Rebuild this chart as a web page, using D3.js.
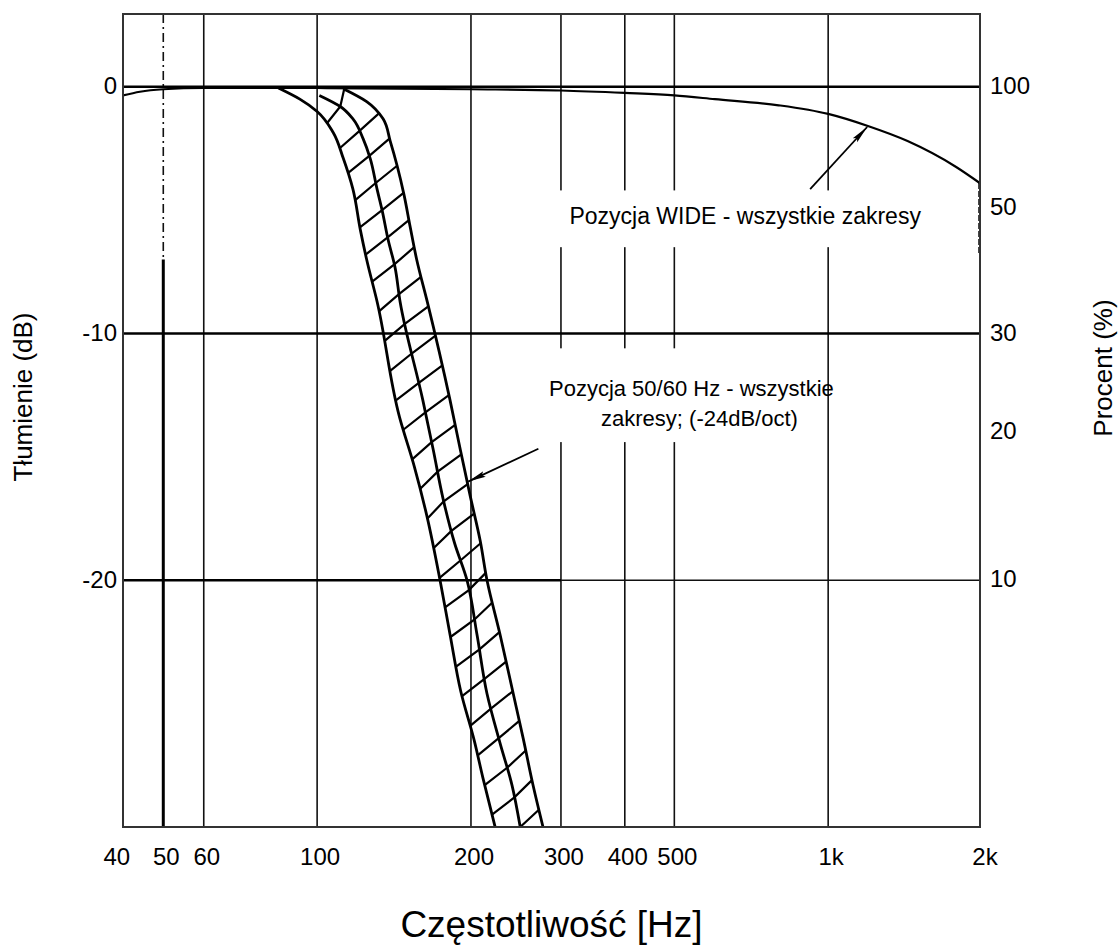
<!DOCTYPE html>
<html>
<head>
<meta charset="utf-8">
<script src="https://cdn.jsdelivr.net/npm/d3@7"></script>
<style>
  body { margin: 0; background: #fff; }
  text { font-family: "Liberation Sans", Arial, sans-serif; fill: #000; }
</style>
</head>
<body>
<svg id="chart"></svg>
<script>
const width = 1119;
const height = 950;
const margin = {top: 14, right: 139, bottom: 123, left: 123};

// axis ticks
const freqTicks = [40, 50, 60, 100, 200, 300, 400, 500, 1000, 2000];
const freqLabels = ["40", "50", "60", "100", "200", "300", "400", "500", "1k", "2k"];
const gridFreqs = [50, 60, 100, 200, 300, 400, 500, 1000];
const dbTicks = [0, -10, -20];
const pctLabels = ["100", "50", "30", "20", "10"];
const pctDb = [0, -4.9, -10, -14, -20];

// "WIDE" response
const wideFreq = [41.7, 45, 50, 60, 100, 200, 300, 400, 500, 600, 800, 1000, 1200, 1430, 1780, 1980];
const wideDb = [-0.35, -0.2, -0.1, -0.05, -0.05, -0.1, -0.15, -0.25, -0.35, -0.5, -0.75, -1.1, -1.6, -2.2, -3.25, -3.9];
const wideDropDb = [-3.9, -6.8];

// 50/60 Hz band: left, middle and right edge
const leftFreq = [84, 92.5, 100, 107.5, 112.5, 117.5, 121.5, 125, 131, 145, 155, 164, 174, 182, 191, 203, 211, 223];
const leftDb = [-0.05, -0.5, -1.0, -1.85, -2.9, -4.15, -5.8, -7.0, -8.7, -13.4, -15.4, -17.4, -20.0, -22.2, -24.5, -26.5, -28.0, -30.0];
const midFreq = [101, 111, 117.5, 123, 127, 131, 134, 137.7, 142, 145.3, 161, 168.7, 176.4, 185.8, 196.5, 205.5, 215, 228, 240.6, 249.7];
const midDb = [-0.35, -0.8, -1.3, -2.1, -2.9, -4.15, -5.0, -6.2, -7.3, -8.7, -12.7, -14.7, -16.7, -18.5, -20.0, -22.2, -24.6, -26.6, -28.3, -30.0];
const rightFreq = [112.5, 125, 134.6, 139, 143.4, 148, 152, 156.6, 164.2, 182, 190.6, 199.4, 208.5, 215, 228, 242, 253, 264.5, 276.7];
const rightDb = [-0.08, -0.6, -1.3, -2.2, -3.2, -4.4, -5.65, -7.0, -8.7, -12.7, -14.7, -16.6, -18.4, -20.0, -22.2, -24.6, -26.4, -28.3, -30.0];

// cross-hatch rungs (level on the left edge, dB)
const rungDb = [-1.5, -2.5, -3.5, -4.6, -5.7, -6.8, -7.9, -9.1, -10.3, -11.5, -12.7, -13.9, -15.1, -16.3,
                -17.5, -18.7, -19.9, -21.1, -22.3, -23.5, -24.7, -25.9, -27.1, -28.3, -29.5, -30.7, -31.9];
const rungStep = 0.7;

const svg = d3.select("#chart").attr("width", width).attr("height", height);
svg.append("rect").attr("width", width).attr("height", height).attr("fill", "#fff");

const x = d3.scaleLog()
    .domain([41.7, 1982])
    .range([margin.left, width - margin.right]);
const y = d3.scaleLinear()
    .domain([-30, 2.95])
    .range([height - margin.bottom, margin.top]);

const x0 = margin.left, x1 = width - margin.right;
const y0 = margin.top, y1 = height - margin.bottom;

const defs = svg.append("defs");
defs.append("clipPath").attr("id", "plot")
  .append("rect").attr("x", x0).attr("y", y0).attr("width", x1 - x0).attr("height", y1 - y0);

defs.append("marker")
    .attr("id", "arrow")
    .attr("markerUnits", "userSpaceOnUse")
    .attr("viewBox", "0 0 18 8")
    .attr("refX", 18).attr("refY", 4)
    .attr("markerWidth", 18).attr("markerHeight", 8)
    .attr("orient", "auto")
  .append("path")
    .attr("d", "M0,1 L18,4 L0,7 L3,4 z")
    .attr("fill", "#000");

// vertical grid
const grid = svg.append("g");
grid.selectAll("line.v")
  .data(gridFreqs.filter(f => f !== 50))
  .join("line")
    .attr("x1", d => x(d)).attr("x2", d => x(d))
    .attr("y1", y0).attr("y2", y1)
    .attr("stroke", "#111").attr("stroke-width", 1.6);

// 50 Hz line: dash-dot on top, heavy below
grid.append("line")
    .attr("x1", x(50)).attr("x2", x(50))
    .attr("y1", y0).attr("y2", y(-7))
    .attr("stroke", "#111").attr("stroke-width", 1.6)
    .attr("stroke-dasharray", "9 4 2 4");
grid.append("line")
    .attr("x1", x(50)).attr("x2", x(50))
    .attr("y1", y(-7)).attr("y2", y1)
    .attr("stroke", "#000").attr("stroke-width", 3);

// horizontal lines
grid.selectAll("line.h")
  .data(dbTicks)
  .join("line")
    .attr("x1", x0).attr("x2", d => d === -20 ? x(300) : x1)
    .attr("y1", d => y(d)).attr("y2", d => y(d))
    .attr("stroke", "#000").attr("stroke-width", 2.6);
grid.append("line")
    .attr("x1", x(300)).attr("x2", x1)
    .attr("y1", y(-20)).attr("y2", y(-20))
    .attr("stroke", "#111").attr("stroke-width", 1.6);

// annotation boxes (white, hide the grid)
const wideText = "Pozycja WIDE - wszystkie zakresy";
const bandText = ["Pozycja 50/60 Hz - wszystkie", "zakresy; (-24dB/oct)"];

svg.append("rect")
    .attr("x", x(265)).attr("y", y(-4.2))
    .attr("width", x(1800) - x(265)).attr("height", y(-6.5) - y(-4.2))
    .attr("fill", "#fff");
svg.append("rect")
    .attr("x", x(222)).attr("y", y(-10.6))
    .attr("width", x(900) - x(222)).attr("height", y(-14.4) - y(-10.6))
    .attr("fill", "#fff");

const line = d3.line().x(d => x(d[0])).y(d => y(d[1]));
const smoothX = d3.line().x(d => x(d[0])).y(d => y(d[1])).curve(d3.curveMonotoneX);
const smoothY = d3.line().x(d => x(d[0])).y(d => y(d[1])).curve(d3.curveMonotoneY);
const plot = svg.append("g").attr("clip-path", "url(#plot)");

// WIDE curve
plot.append("path")
    .datum(d3.zip(wideFreq, wideDb))
    .attr("d", smoothX)
    .attr("fill", "none").attr("stroke", "#000").attr("stroke-width", 2.2);
plot.append("path")
    .datum(wideDropDb.map(d => [wideFreq[wideFreq.length - 1], d]))
    .attr("d", line)
    .attr("fill", "none").attr("stroke", "#000").attr("stroke-width", 3)
    .attr("stroke-dasharray", "6 2");

// band edges
const edges = [d3.zip(leftFreq, leftDb), d3.zip(midFreq, midDb), d3.zip(rightFreq, rightDb)];
plot.selectAll("path.edge")
  .data(edges)
  .join("path")
    .attr("d", smoothY)
    .attr("fill", "none").attr("stroke", "#000").attr("stroke-width", 2.8);

// hatch: rungs across the band
const edgeAt = (fs, ds) => d3.scaleLinear().domain(ds).range(fs.map(Math.log10));
const lx = edgeAt(leftFreq, leftDb), mx = edgeAt(midFreq, midDb), rx = edgeAt(rightFreq, rightDb);
const rungs = rungDb.map(d => [
  [10 ** lx(d), d],
  [10 ** mx(d + rungStep), d + rungStep],
  [10 ** rx(d + 2 * rungStep), d + 2 * rungStep]
]);
plot.selectAll("path.rung")
  .data(rungs)
  .join("path")
    .attr("d", line)
    .attr("fill", "none").attr("stroke", "#000").attr("stroke-width", 2.2);

// annotation texts
svg.append("text")
    .attr("x", x(688)).attr("y", y(-5.55))
    .attr("text-anchor", "middle")
    .style("font-size", "23px")
    .text(wideText);
svg.append("text")
    .attr("x", x(540)).attr("y", y(-12.55))
    .attr("text-anchor", "middle")
    .style("font-size", "22px")
    .text(bandText[0]);
svg.append("text")
    .attr("x", x(560)).attr("y", y(-13.75))
    .attr("text-anchor", "middle")
    .style("font-size", "22px")
    .text(bandText[1]);

// arrows
const arrows = [
  [[922, -4.15], [1192, -1.63]],
  [[271, -14.67], [197.5, -16.0]]
];
svg.selectAll("path.arrow")
  .data(arrows)
  .join("path")
    .attr("d", line)
    .attr("fill", "none").attr("stroke", "#000").attr("stroke-width", 1.8)
    .attr("marker-end", "url(#arrow)");

// frame
svg.append("rect")
    .attr("x", x0).attr("y", y0)
    .attr("width", x1 - x0).attr("height", y1 - y0)
    .attr("fill", "none").attr("stroke", "#333").attr("stroke-width", 2);

// tick labels
svg.append("g")
  .selectAll("text")
  .data(freqTicks)
  .join("text")
    .attr("x", d => x(d) + 3)
    .attr("y", y1 + 38)
    .attr("text-anchor", "middle")
    .style("font-size", "24px")
    .text((d, i) => freqLabels[i]);

svg.append("g")
  .selectAll("text")
  .data(dbTicks)
  .join("text")
    .attr("x", x0 - 6)
    .attr("y", d => y(d))
    .attr("dy", "0.32em")
    .attr("text-anchor", "end")
    .style("font-size", "24px")
    .text(d => d);

svg.append("g")
  .selectAll("text")
  .data(pctDb)
  .join("text")
    .attr("x", x1 + 10)
    .attr("y", d => y(d))
    .attr("dy", "0.3em")
    .style("font-size", "24px")
    .text((d, i) => pctLabels[i]);

// axis titles
svg.append("text")
    .attr("transform", `translate(23,397) rotate(-90)`)
    .attr("text-anchor", "middle")
    .attr("dy", "0.35em")
    .style("font-size", "26px")
    .text("Tłumienie (dB)");

svg.append("text")
    .attr("transform", `translate(1103,368) rotate(-90)`)
    .attr("text-anchor", "middle")
    .attr("dy", "0.35em")
    .style("font-size", "26px")
    .text("Procent (%)");

svg.append("text")
    .attr("x", (x0 + x1) / 2).attr("y", 937)
    .attr("text-anchor", "middle")
    .style("font-size", "37px")
    .text("Częstotliwość [Hz]");
</script>
</body>
</html>
